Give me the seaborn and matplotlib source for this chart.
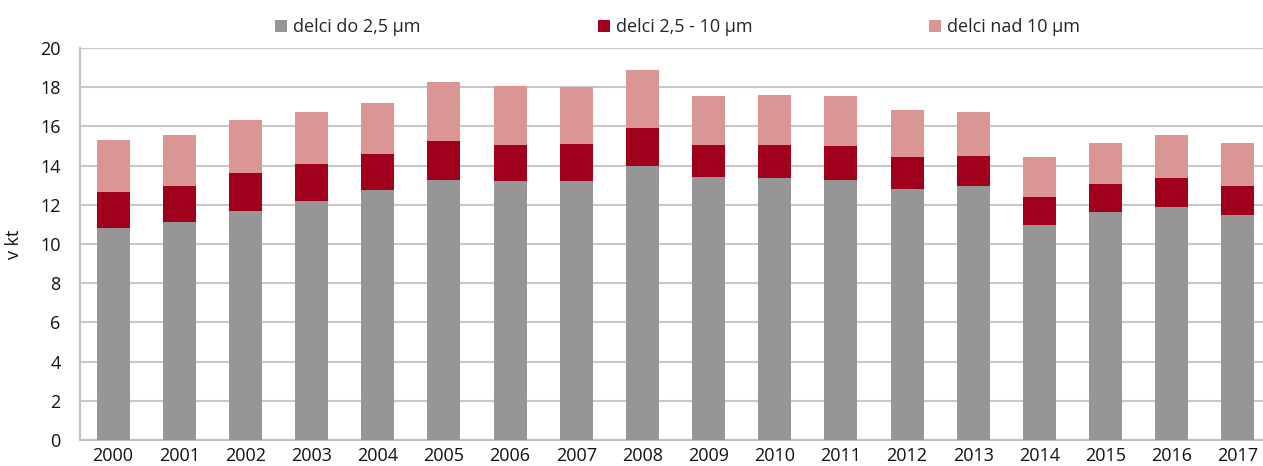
import matplotlib
matplotlib.use("Agg")
import matplotlib.pyplot as plt
import seaborn as sns
import pandas as pd
import numpy as np
from matplotlib.patches import Patch

years = ["2000", "2001", "2002", "2003", "2004", "2005", "2006", "2007", "2008",
         "2009", "2010", "2011", "2012", "2013", "2014", "2015", "2016", "2017"]
pm25 = [10.83, 11.11, 11.69, 12.18, 12.76, 13.29, 13.22, 13.22, 13.97,
        13.42, 13.37, 13.29, 12.79, 12.95, 10.97, 11.64, 11.91, 11.47]
pm25_10 = [1.83, 1.87, 1.94, 1.91, 1.84, 1.97, 1.82, 1.89, 1.96,
           1.64, 1.69, 1.70, 1.66, 1.53, 1.43, 1.43, 1.48, 1.51]
pm10_plus = [2.64, 2.57, 2.71, 2.66, 2.59, 3.02, 3.03, 2.90, 2.93,
             2.47, 2.52, 2.54, 2.38, 2.25, 2.06, 2.09, 2.16, 2.15]
labels = ["delci do 2,5 µm", "delci 2,5 - 10 µm", "delci nad 10 µm"]
colors = ["#969696", "#A0001C", "#DA9694"]

df = pd.DataFrame({"year": years, "fine": pm25, "mid": pm25_10, "coarse": pm10_plus})
df["lvl1"] = df["fine"]
df["lvl2"] = df["fine"] + df["mid"]
df["lvl3"] = df["lvl2"] + df["coarse"]

sns.set_theme(style="white")
plt.rcParams["font.family"] = ["Open Sans", "DejaVu Sans"]

fig = plt.figure(figsize=(12.63, 4.66), dpi=100)
W, H = 1263, 466
ax = fig.add_axes([80 / W, 26 / H, (1271 - 80) / W, 392 / H])

for col, c in zip(["lvl3", "lvl2", "lvl1"], colors[::-1]):
    sns.barplot(data=df, x="year", y=col, color=c, width=0.5, ax=ax,
                saturation=1, edgecolor="none", linewidth=0, zorder=3)

FS = 13
ax.set_ylim(0, 20)
ax.set_xlim(-0.5, 17.5)
ax.set_yticks(np.arange(0, 21, 2))
ax.yaxis.grid(True, color="#C8C8C8", linewidth=1.5, zorder=0)
ax.set_axisbelow(True)
for s in ["top", "right"]:
    ax.spines[s].set_visible(False)
for s in ["left", "bottom"]:
    ax.spines[s].set_color("#C0C0C0")
    ax.spines[s].set_linewidth(1.5)
ax.tick_params(axis="both", length=0, labelsize=FS, colors="#111111")
ax.tick_params(axis="x", pad=5)
ax.tick_params(axis="y", pad=14)
ax.set_xlabel("")
ax.set_ylabel("v kt", fontsize=FS, color="#111111", labelpad=12)

xs = [283 / W, 606 / W, 937 / W]
for lab, c, x in zip(labels, colors, xs):
    fig.legend(handles=[Patch(facecolor=c, edgecolor="none", label=lab)],
               loc="center left", bbox_to_anchor=(x - 0.006, 1 - 27 / H),
               frameon=False, fontsize=FS, handlelength=0.65, handleheight=0.65,
               handletextpad=0.3, borderpad=0, borderaxespad=0)

fig.savefig("out.png", dpi=100)
